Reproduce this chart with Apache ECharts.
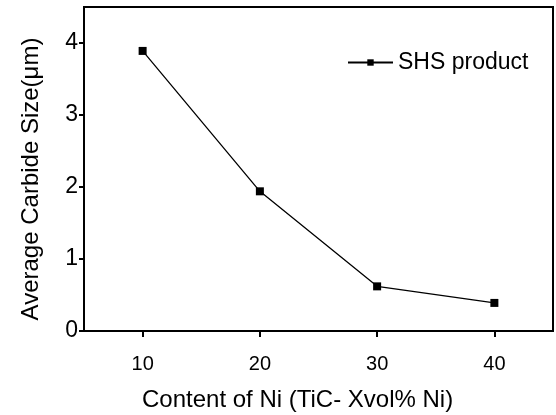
<!DOCTYPE html>
<html><head><meta charset="utf-8">
<script src="https://cdn.jsdelivr.net/npm/echarts@6/dist/echarts.min.js"></script>
<style>html,body{margin:0;padding:0;background:#fff}#c{width:556px;height:415px}</style>
</head><body><div id="c"></div>
<script>
const niContent = [10, 20, 30, 40];
const carbideSize = [3.89, 1.94, 0.62, 0.39];
const xTicks = [10, 20, 30, 40];
const yTicks = [0, 1, 2, 3, 4];
const seriesName = 'SHS product';
const xTitle = 'Content of Ni (TiC- Xvol% Ni)';
const yTitle = 'Average Carbide Size(\u03bcm)';

const font = 'Liberation Sans, Arial, sans-serif';
const chart = echarts.init(document.getElementById('c'), null, {renderer: 'canvas'});
chart.setOption({
  animation: false,
  backgroundColor: '#fff',
  title: {
    text: xTitle, left: 142, top: 388, padding: 0,
    textStyle: {fontFamily: font, fontSize: 24, fontWeight: 'normal', color: '#000'}
  },
  graphic: [{
    type: 'text', x: 31, y: 179, rotation: Math.PI / 2,
    style: {text: yTitle, font: '24px ' + font, fill: '#000', align: 'center', verticalAlign: 'middle'}
  }],
  grid: {left: 84, right: 3, top: 7, bottom: 84, show: true, borderColor: '#000', borderWidth: 2, backgroundColor: 'transparent'},
  legend: {
    data: [seriesName], left: 347, top: 51, padding: 0, itemWidth: 45, itemHeight: 8, itemGap: 6,
    textStyle: {fontFamily: font, fontSize: 23, color: '#000'}
  },
  xAxis: {
    type: 'value', min: 5, max: 45, interval: 5,
    axisLine: {lineStyle: {color: '#000', width: 2}},
    axisTick: {show: true, inside: false, length: 6, customValues: xTicks, lineStyle: {color: '#000', width: 2}},
    axisLabel: {customValues: xTicks, fontFamily: font, fontSize: 20, color: '#000', margin: 23},
    splitLine: {show: false}
  },
  yAxis: {
    type: 'value', min: 0, max: 4.5, interval: 1,
    axisLine: {lineStyle: {color: '#000', width: 2}},
    axisTick: {show: true, inside: false, length: 5, customValues: yTicks, lineStyle: {color: '#000', width: 2}},
    axisLabel: {customValues: yTicks, fontFamily: font, fontSize: 23, color: '#000', margin: 6},
    splitLine: {show: false}
  },
  series: [{
    name: seriesName, type: 'line',
    data: niContent.map((x, i) => [x, carbideSize[i]]),
    symbol: 'rect', symbolSize: 8,
    itemStyle: {color: '#000'},
    lineStyle: {color: '#000', width: 1.3}
  }]
});
</script></body></html>
